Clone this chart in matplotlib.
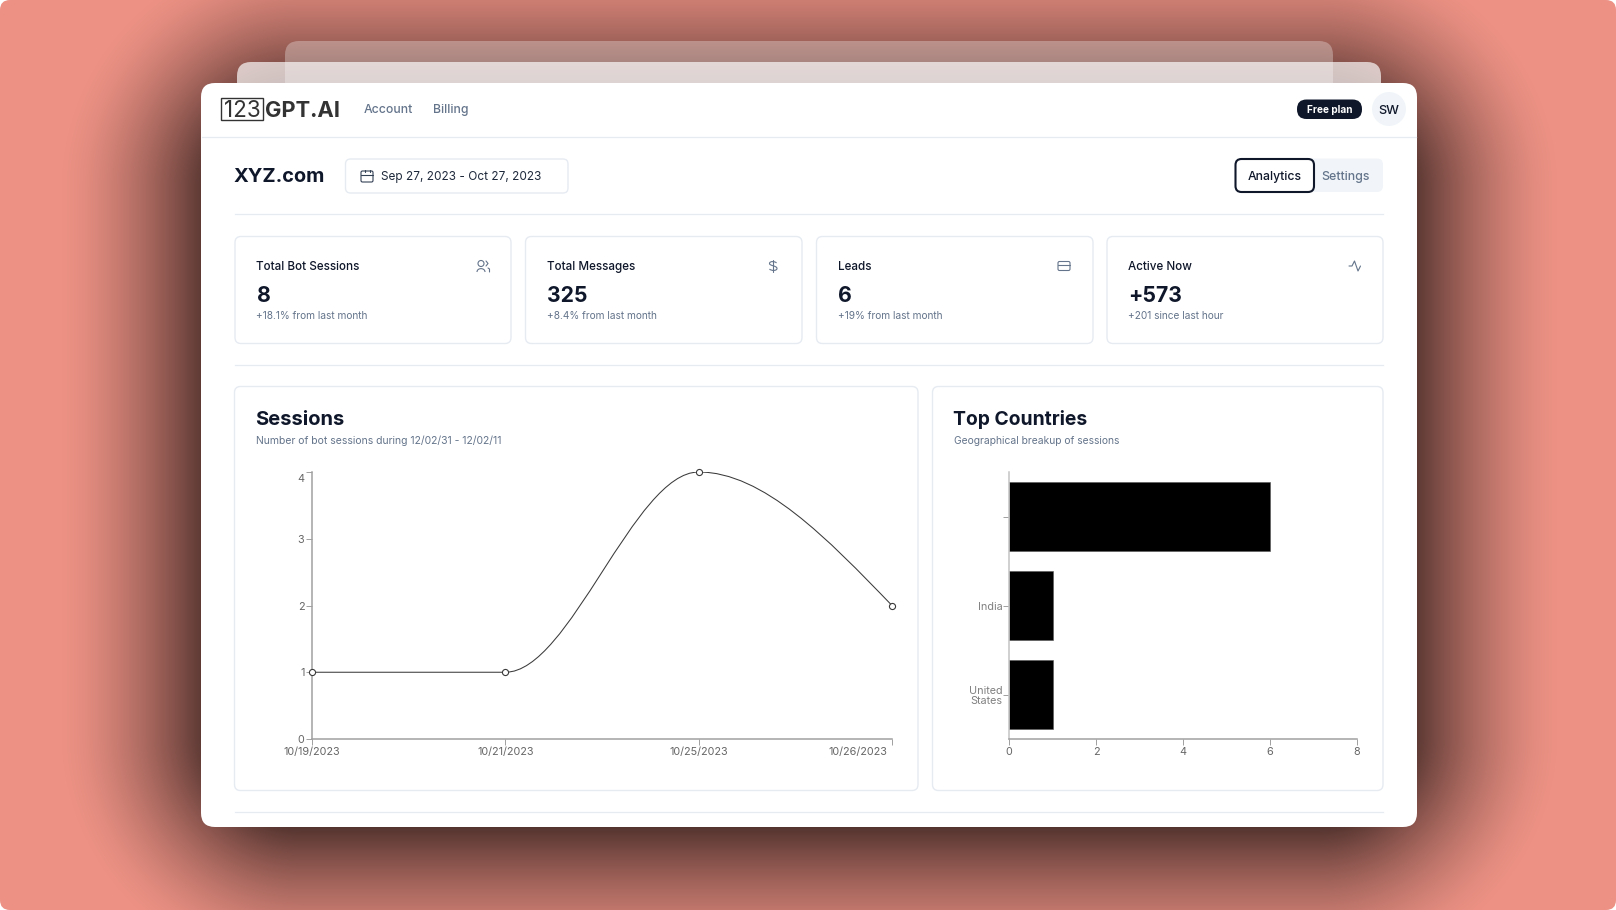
import matplotlib
matplotlib.use('Agg')
import matplotlib.pyplot as plt
import numpy as np
from matplotlib.patches import FancyBboxPatch, Circle, PathPatch, Rectangle
from matplotlib.path import Path
from matplotlib.transforms import ScaledTranslation

W, H = 1616, 910
BG = '#ec9184'
BORDER = '#e6ebf2'
DARK = '#0f172a'
MUTED = '#64748b'
TICK = '#666666'
AXIS = '#a0a0a0'

plt.rcParams['font.family'] = ['Inter', 'Liberation Sans', 'DejaVu Sans']

session_dates = ['10/19/2023', '10/21/2023', '10/25/2023', '10/26/2023']
session_values = [1, 1, 4, 2]
session_yticks = [0, 1, 2, 3, 4]

countries = ['', 'India', 'United\nStates']
country_values = [6, 1, 1]
country_xticks = [0, 2, 4, 6, 8]

stat_titles = ['Total Bot Sessions', 'Total Messages', 'Leads', 'Active Now']
stat_values = ['8', '325', '6', '+573']
stat_notes = ['+18.1% from last month', '+8.4% from last month',
              '+19% from last month', '+201 since last hour']


def box(ax, x0, y0, x1, y1, r=8, fc='white', ec='none', lw=1, alpha=None, z=2):
    p = FancyBboxPatch((x0, y0), x1 - x0, y1 - y0,
                       boxstyle='round,pad=0,rounding_size={}'.format(r),
                       fc=fc, ec=ec, lw=lw, alpha=alpha, zorder=z)
    ax.add_patch(p)
    return p


def label(ax, x, y, s, size, color=DARK, weight='normal', ha='left', z=5):
    # y is the middle of the capitals, half a cap height above the baseline
    ax.text(x, y + 0.5 * size, s, fontsize=size, color=color, fontweight=weight, ha=ha,
            va='baseline', zorder=z)


def stroke(ax, xs, ys, color=MUTED, lw=0.8):
    ax.plot(xs, ys, color=color, lw=lw, zorder=5, solid_capstyle='round')


def shadow_layer():
    # soft shadow of the window, a bit lower than the window itself
    yy, xx = np.mgrid[0:H, 0:W]
    cx, cy = (201 + 1417) / 2, (83 + 827) / 2 + 6
    hw, hh = (1417 - 201) / 2 - 50, (827 - 83) / 2 - 50
    r = 50
    dx = np.abs(xx - cx) - hw + r
    dy = np.abs(yy - cy) - hh + r
    d = np.hypot(np.maximum(dx, 0), np.maximum(dy, 0)) - r
    a = 0.95 * np.clip(1 - d / 190, 0, 1) ** 1.5
    base = np.array(matplotlib.colors.to_rgb(BG))
    return base[None, None, :] * (1 - a[..., None])


fig = plt.figure(figsize=(W / 100, H / 100), dpi=100, facecolor='white')
page = fig.add_axes([0, 0, 1, 1], zorder=0)
page.set_xlim(0, W)
page.set_ylim(H, 0)
page.axis('off')

# background with rounded picture corners
im = page.imshow(shadow_layer(), extent=(0, W, H, 0), aspect='auto', zorder=0)
clip = FancyBboxPatch((0, 0), W, H, boxstyle='round,pad=0,rounding_size=10',
                      fc='none', ec='none', transform=page.transData)
page.add_patch(clip)
im.set_clip_path(clip)

# stacked sheets behind the window
box(page, 285, 41, 1333, 120, r=14, fc='white', alpha=0.3, z=1)
box(page, 237, 62, 1381, 120, r=14, fc='white', alpha=0.68, z=1.5)
box(page, 201, 83, 1417, 827, r=14)

# header
page.plot([202, 1416], [137, 137], color=BORDER, lw=0.9, zorder=3)
page.add_patch(Rectangle((221, 98), 42, 22, fc='none', ec='#333333', lw=1, zorder=5))
label(page, 242, 109, '123', 16.2, '#333333', ha='center')
label(page, 265, 109, 'GPT.AI', 15.8, '#333333', 'bold')
label(page, 364, 109, 'Account', 8.8, MUTED, 'medium')
label(page, 433, 109, 'Billing', 8.8, MUTED, 'medium')
box(page, 1297, 99.5, 1362, 119, r=9.5, fc=DARK, z=3)
label(page, 1329.5, 109, 'Free plan', 7.2, 'white', 'bold', ha='center')
page.add_patch(Circle((1389, 109), 17, fc='#f1f5f9', ec='none', zorder=3))
label(page, 1389, 109, 'SW', 9.2, DARK, 'medium', ha='center')

# title row
label(page, 233, 175, 'XYZ.com', 14.4, DARK, 'bold')
box(page, 345.5, 159, 568, 193, r=5, ec=BORDER, z=3)
label(page, 381, 176, 'Sep 27, 2023 - Oct 27, 2023', 8.5, '#1e293b')
box(page, 361, 171, 373, 182, r=1.5, fc='none', ec='#334155', lw=0.8, z=5)
stroke(page, [361, 373], [175, 175], '#334155')
stroke(page, [364.5, 364.5], [169.5, 172], '#334155')
stroke(page, [369.5, 369.5], [169.5, 172], '#334155')
box(page, 1235, 158.5, 1383, 192, r=6, fc='#f1f5f9', z=3)
box(page, 1235.5, 159, 1314, 192, r=6, ec=DARK, lw=1.5, z=4)
label(page, 1274.5, 175.5, 'Analytics', 8.8, DARK, 'medium', ha='center')
label(page, 1346, 175.5, 'Settings', 8.9, MUTED, 'medium', ha='center')
page.plot([235, 1383], [214, 214], color=BORDER, lw=0.9, zorder=3)

# stat cards
card_edges = [(235, 511), (525.5, 802), (816.5, 1093), (1107, 1383)]
for (x0, x1), title, value, note in zip(card_edges, stat_titles, stat_values, stat_notes):
    box(page, x0, 236.5, x1, 343.5, r=6, ec=BORDER, z=3)
    label(page, x0 + 21.5, 265.5, title, 8.4, '#0f172a', 'medium')
    label(page, x0 + 21.5, 294, value, 15.3, DARK, 'bold')
    label(page, x0 + 21.5, 315, note, 7.3, MUTED)

# users icon
page.add_patch(Circle((481, 263.5), 3, fc='none', ec=MUTED, lw=0.8, zorder=5))
page.add_patch(PathPatch(Path([(477, 272), (477, 267.5), (485, 267.5), (485, 272)],
                              [Path.MOVETO, Path.CURVE4, Path.CURVE4, Path.CURVE4]),
                         fc='none', ec=MUTED, lw=0.8, zorder=5))
stroke(page, [486, 488, 486], [261, 263.5, 266])
stroke(page, [488, 489.5, 489.5], [268, 269, 272])
# dollar icon
stroke(page, [773, 773], [260, 272])
page.add_patch(PathPatch(Path([(776.5, 263), (775, 261), (769.5, 261), (769.5, 263.5),
                               (769.5, 266), (777, 265.5), (777, 268.5),
                               (777, 271), (771, 271), (769.5, 269)],
                              [Path.MOVETO] + [Path.CURVE4] * 9),
                         fc='none', ec=MUTED, lw=0.8, zorder=5))
# card icon
box(page, 1058, 261.5, 1070, 270.5, r=1.5, fc='none', ec=MUTED, lw=0.8, z=5)
stroke(page, [1058, 1070], [264.5, 264.5])
# activity icon
stroke(page, [1349, 1352, 1354.5, 1358, 1360.5], [266, 266, 261, 271, 266])

page.plot([235, 1383], [365, 365], color=BORDER, lw=0.9, zorder=3)
page.plot([235, 1383], [812, 812], color=BORDER, lw=0.9, zorder=3)

# chart cards
box(page, 234.5, 386.5, 918, 790.5, r=6, ec=BORDER, z=3)
box(page, 932.5, 386.5, 1383, 790.5, r=6, ec=BORDER, z=3)
label(page, 255, 418, 'Sessions', 14.5, DARK, 'bold')
label(page, 256, 440, 'Number of bot sessions during 12/02/31 - 12/02/11', 7.5, MUTED)
label(page, 953, 418, 'Top Countries', 13.9, DARK, 'bold')
label(page, 954, 440, 'Geographical breakup of sessions', 7.4, MUTED)


def chart_axes(x0, y0, x1, y1):
    ax = fig.add_axes([x0 / W, 1 - y1 / H, (x1 - x0) / W, (y1 - y0) / H], zorder=2)
    ax.patch.set_alpha(0)
    ax.spines['top'].set_visible(False)
    ax.spines['right'].set_visible(False)
    ax.spines['left'].set_color(AXIS)
    ax.spines['bottom'].set_color(AXIS)
    ax.spines['left'].set_linewidth(1.1)
    ax.spines['bottom'].set_linewidth(1.1)
    ax.tick_params(length=4.3, width=0.7, color=AXIS, labelcolor=TICK, labelsize=7.8, pad=1.2)
    return ax


# sessions line, same curve as a monotone cubic through the values
ax1 = chart_axes(312, 472, 892, 739)
xs = np.arange(len(session_values))
ys = np.array(session_values, dtype=float)
slopes = np.diff(ys)
tangents = [0.0] * len(ys)
for i in range(1, len(ys) - 1):
    if slopes[i - 1] * slopes[i] > 0:
        tangents[i] = 2 * slopes[i - 1] * slopes[i] / (slopes[i - 1] + slopes[i])
tangents[0] = (3 * slopes[0] - tangents[1]) / 2
tangents[-1] = (3 * slopes[-1] - tangents[-2]) / 2
verts = [(xs[0], ys[0])]
codes = [Path.MOVETO]
for i in range(len(ys) - 1):
    verts += [(xs[i] + 1 / 3, ys[i] + tangents[i] / 3),
              (xs[i + 1] - 1 / 3, ys[i + 1] - tangents[i + 1] / 3),
              (xs[i + 1], ys[i + 1])]
    codes += [Path.CURVE4] * 3
ax1.add_patch(PathPatch(Path(verts, codes), fc='none', ec='#3a3a3a', lw=0.75, zorder=3))
ax1.plot(xs, ys, ls='none', marker='o', ms=4.4, mfc='white', mec='#3a3a3a', mew=0.8,
         clip_on=False, zorder=4)
ax1.set_xlim(0, 3)
ax1.set_ylim(0, 4)
ax1.set_yticks(session_yticks)
ax1.set_xticks(xs)
ax1.set_xticklabels(session_dates)
last = ax1.get_xticklabels()[-1]
last.set_ha('right')
last.set_transform(last.get_transform() + ScaledTranslation(-5 / 100, 0, fig.dpi_scale_trans))
top = ax1.get_yticklabels()[-1]
top.set_transform(top.get_transform() + ScaledTranslation(0, -5.5 / 100, fig.dpi_scale_trans))

# countries bars
ax2 = chart_axes(1009, 472, 1357, 739)
pos = np.arange(len(countries))
ax2.barh(pos, country_values, height=0.78, color='black', edgecolor='#555555', linewidth=0.4)
ax2.set_xlim(0, 8)
ax2.set_ylim(2.5, -0.5)
ax2.set_xticks(country_xticks)
ax2.set_yticks(pos)
ax2.set_yticklabels(countries, linespacing=1.0)
ax2.tick_params(axis='y', pad=0.5)
ax2.spines['left'].set_color('#c4c4c4')
for t in ax2.get_yticklabels():
    t.set_color('#808080')

fig.savefig('out.png', dpi=100)
